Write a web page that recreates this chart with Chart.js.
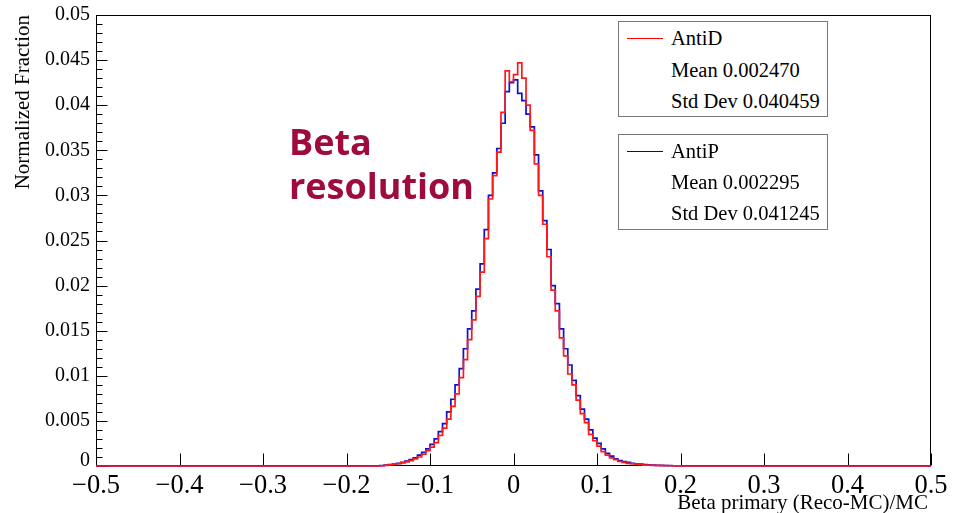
<!DOCTYPE html>
<html>
<head>
<meta charset="utf-8">
<script src="https://cdn.jsdelivr.net/npm/chart.js@4.4.0/dist/chart.umd.min.js"></script>
<style>
  html, body { margin: 0; padding: 0; background: #fff; }
  #wrap { position: relative; width: 959px; height: 513px; overflow: hidden; }
  #c { position: absolute; left: 0; top: 0; }
  .box { position: absolute; border: 1px solid #777; background: #fff; box-sizing: border-box;
         font-family: "Liberation Serif", "Times New Roman", serif; font-size: 20.5px; color: #000; }
  .row { position: absolute; left: 52px; white-space: nowrap; line-height: 1; }
  .sample { position: absolute; left: 8px; width: 36px; height: 0; }
  #anno { position: absolute; left: 289px; top: 120px; font-family: "Open Sans", sans-serif; font-weight: 700;
          font-size: 36px; line-height: 44px; color: #9e0b3e; white-space: nowrap; }
</style>
</head>
<body>
<div id="wrap">
  <canvas id="c" width="959" height="513"></canvas>
  <div class="box" style="left:618px; top:21px; width:210px; height:96px;">
    <div class="sample" style="top:16px; border-top:1.5px solid #ff0000;"></div>
    <div class="row" style="top:6px;">AntiD</div>
    <div class="row" style="top:38px;">Mean 0.002470</div>
    <div class="row" style="top:69px;">Std Dev 0.040459</div>
  </div>
  <div class="box" style="left:618px; top:134px; width:210px; height:96px;">
    <div class="sample" style="top:16px; border-top:1.5px solid #0000cc;"></div>
    <div class="row" style="top:6px;">AntiP</div>
    <div class="row" style="top:37px;">Mean 0.002295</div>
    <div class="row" style="top:68px;">Std Dev 0.041245</div>
  </div>
  <div id="anno">Beta<br>resolution</div>
</div>
<script>
// ---- data ----
const binWidth = 0.005;
const firstBin = -0.16;           // lower edge of the first non-empty bin
const xRange = [-0.5, 0.5];
const yRange = [0, 0.05];
const xTicks = [-0.5, -0.4, -0.3, -0.2, -0.1, 0, 0.1, 0.2, 0.3, 0.4, 0.5];
const yTicks = [0, 0.005, 0.01, 0.015, 0.02, 0.025, 0.03, 0.035, 0.04, 0.045, 0.05];

const antiD = [
  0.00003, 0.00008, 0.00012, 0.00018, 0.00025, 0.00035, 0.00045, 0.0006, 0.0008, 0.0010, 0.0013, 0.0017,
  0.0021, 0.0026, 0.0034, 0.0042, 0.0052, 0.0066, 0.0080, 0.0098, 0.0118, 0.0140,
  0.0162, 0.0188, 0.0215, 0.0252, 0.0296, 0.0322, 0.0348, 0.0392, 0.0438, 0.0426,
  0.0434, 0.0447, 0.0430, 0.0400, 0.0372, 0.0335, 0.0300, 0.0268, 0.0232, 0.0195,
  0.0172, 0.0142, 0.0122, 0.0102, 0.0090, 0.0073, 0.0058, 0.0048, 0.0035, 0.0028,
  0.0022, 0.0016, 0.0012, 0.0009, 0.0007, 0.0005, 0.0004, 0.0003, 0.00025, 0.0002,
  0.00015, 0.0001, 0.0001, 0.00008, 0.00006, 0.00005, 0.00004, 0.00003, 0.00002, 0.00001
];
const antiP = [
  0.00004, 0.0001, 0.00015, 0.0002, 0.0003, 0.0004, 0.00055, 0.0007, 0.0009, 0.0012, 0.0015, 0.0019,
  0.0024, 0.0030, 0.0038, 0.0047, 0.0060, 0.0074, 0.0090, 0.0108, 0.0130, 0.0152,
  0.0172, 0.0196, 0.0224, 0.0262, 0.0300, 0.0325, 0.0352, 0.0380, 0.0415, 0.0425,
  0.0428, 0.0413, 0.0405, 0.0390, 0.0376, 0.0345, 0.0305, 0.0272, 0.0240, 0.0200,
  0.0180, 0.0152, 0.0130, 0.0112, 0.0095, 0.0078, 0.0063, 0.0052, 0.0040, 0.0031,
  0.0025, 0.0019, 0.0014, 0.0011, 0.0008, 0.0006, 0.0005, 0.0004, 0.0003, 0.00025,
  0.0002, 0.00015, 0.00012, 0.0001, 0.00008, 0.00006, 0.00005, 0.00004, 0.00003, 0.00002
];

// histogram outline points (bin lower edges, step drawn by Chart.js)
function histPoints(vals) {
  const pts = [{ x: xRange[0], y: 0 }];
  vals.forEach((v, i) => pts.push({ x: Math.round((firstBin + i * binWidth) * 1e6) / 1e6, y: v }));
  pts.push({ x: Math.round((firstBin + vals.length * binWidth) * 1e6) / 1e6, y: 0 });
  pts.push({ x: xRange[1], y: 0 });
  return pts;
}

const serif = '"Liberation Serif", "Times New Roman", serif';

const rootFrame = {
  id: 'rootFrame',
  beforeDatasetsDraw(chart) {
    const { ctx, chartArea: a, scales: { x, y } } = chart;
    ctx.save();
    ctx.strokeStyle = '#000';
    ctx.lineWidth = 1;
    const L = Math.round(a.left) + 0.5, T = Math.round(a.top) + 0.5;
    const R = Math.round(a.right) - 0.5, B = Math.round(a.bottom) - 0.5;
    ctx.strokeRect(L, T, R - L, B - T);
    ctx.beginPath();
    for (let i = 0; i < yTicks.length; i++) {
      const py = Math.round(y.getPixelForValue(yTicks[i])) + 0.5;
      ctx.moveTo(L, py); ctx.lineTo(L + 11, py);
      if (i < yTicks.length - 1) {
        const step = (yTicks[i + 1] - yTicks[i]) / 5;
        for (let k = 1; k < 5; k++) {
          const pm = Math.round(y.getPixelForValue(yTicks[i] + k * step)) + 0.5;
          ctx.moveTo(L, pm); ctx.lineTo(L + 6, pm);
        }
      }
    }
    xTicks.forEach(v => {
      const px = Math.round(x.getPixelForValue(v)) + 0.5;
      ctx.moveTo(px, B); ctx.lineTo(px, B - 12);
    });
    ctx.stroke();
    ctx.restore();
  },
  afterDraw(chart) {
    const { ctx, chartArea: a, scales: { y } } = chart;
    ctx.save();
    ctx.fillStyle = '#000';
    ctx.font = '20px ' + serif;
    ctx.textAlign = 'right';
    ctx.textBaseline = 'middle';
    yTicks.forEach(v => {
      let py = y.getPixelForValue(v);
      if (v === 0) py -= 5;
      const s = v === 0 ? '0' : String(Number(v.toFixed(3)));
      ctx.fillText(s, a.left - 6, py);
    });
    ctx.font = '21px ' + serif;
    ctx.textAlign = 'right';
    ctx.textBaseline = 'alphabetic';
    ctx.fillText('Beta primary (Reco-MC)/MC', 928, 509);
    ctx.translate(29, a.top);
    ctx.rotate(-Math.PI / 2);
    ctx.fillText('Normalized Fraction', 0, 0);
    ctx.restore();
  }
};

new Chart(document.getElementById('c'), {
  type: 'line',
  data: {
    datasets: [
      { label: 'AntiD', data: histPoints(antiD), borderColor: '#ff1a1a', borderWidth: 1.7,
        stepped: 'before', pointRadius: 0, fill: false, tension: 0, clip: 3 },
      { label: 'AntiP', data: histPoints(antiP), borderColor: '#1010d0', borderWidth: 1.7,
        stepped: 'before', pointRadius: 0, fill: false, tension: 0, clip: 3 }
    ]
  },
  options: {
    responsive: false,
    animation: false,
    events: [],
    layout: { padding: { left: 0, top: 15, right: 28, bottom: 0 } },
    plugins: { legend: { display: false }, tooltip: { enabled: false } },
    scales: {
      x: {
        type: 'linear', min: xRange[0], max: xRange[1],
        afterFit(s) { s.height = 47; },
        afterBuildTicks(s) { s.ticks = xTicks.map(v => ({ value: v })); },
        grid: { display: false, drawTicks: false },
        border: { display: false },
        ticks: {
          autoSkip: false, maxRotation: 0, padding: 4, color: '#000',
          font: { family: serif, size: 26.5 },
          callback: v => v === 0 ? '0' : (v < 0 ? '\u2212' + Math.abs(v).toFixed(1) : v.toFixed(1))
        }
      },
      y: {
        type: 'linear', min: yRange[0], max: yRange[1],
        afterFit(s) { s.width = 96; },
        afterBuildTicks(s) { s.ticks = yTicks.map(v => ({ value: v })); },
        grid: { display: false, drawTicks: false },
        border: { display: false },
        ticks: { display: false }
      }
    }
  },
  plugins: [rootFrame]
});
</script>
</body>
</html>
